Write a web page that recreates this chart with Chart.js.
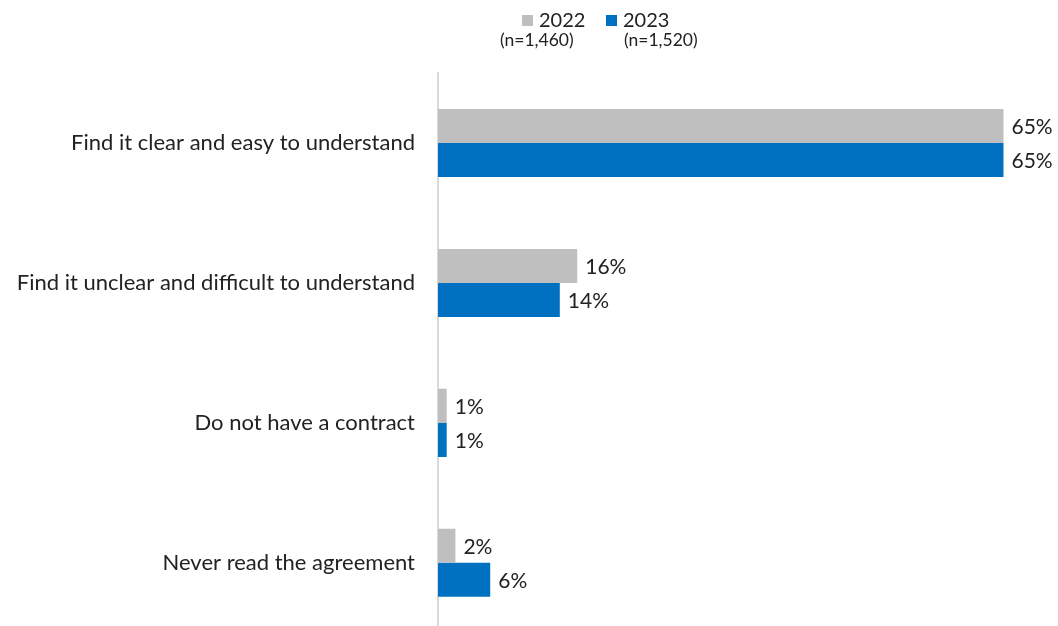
<!DOCTYPE html>
<html>
<head>
<meta charset="utf-8">
<script src="https://cdn.jsdelivr.net/npm/chart.js@4"></script>
<style>
  html, body { margin: 0; padding: 0; background: #fff; overflow: hidden; }
  #wrap { position: relative; width: 1058px; height: 626px; overflow: hidden; }
  #chart { position: absolute; left: 0; top: 0; }
  .legend { position: absolute; top: 8px; font-family: Lato, "Open Sans", sans-serif; color: #222; }
  .legend .year { font-size: 20px; line-height: 22px; white-space: nowrap; }
  .legend .sw { display: inline-block; width: 11px; height: 11px; margin-right: 6px; vertical-align: 1px; }
  .legend .n { font-size: 17.5px; line-height: 20px; white-space: nowrap; }
</style>
</head>
<body>
<div id="wrap">
  <!-- the canvas runs past the page bottom so the axis line reaches the edge -->
  <canvas id="chart" width="1058" height="661"></canvas>
  <div class="legend" style="left:500px">
    <div class="year" style="padding-left:22px"><span class="sw" style="background:#bfbfbf"></span>2022</div>
    <div class="n">(n=1,460)</div>
  </div>
  <div class="legend" style="left:606px">
    <div class="year"><span class="sw" style="background:#0070c0"></span>2023</div>
    <div class="n" style="padding-left:18px">(n=1,520)</div>
  </div>
</div>
<script>
const categories = [
  'Find it clear and easy to understand',
  'Find it unclear and difficult to understand',
  'Do not have a contract',
  'Never read the agreement'
];
const values2022 = [65, 16, 1, 2];
const values2023 = [65, 14, 1, 6];

const FONT = 'Lato, "Open Sans", sans-serif';

// write the percentage just past the end of every bar
const valueLabels = {
  id: 'valueLabels',
  afterDatasetsDraw(chart) {
    const ctx = chart.ctx;
    ctx.save();
    ctx.font = '21px ' + FONT;
    ctx.fillStyle = '#222';
    ctx.textAlign = 'left';
    ctx.textBaseline = 'middle';
    chart.data.datasets.forEach((ds, i) => {
      chart.getDatasetMeta(i).data.forEach((bar, j) => {
        ctx.fillText(ds.data[j] + '%', bar.x + 8, bar.y + 1);
      });
    });
    ctx.restore();
  }
};

new Chart(document.getElementById('chart'), {
  type: 'bar',
  data: {
    labels: categories,
    datasets: [
      { label: '2022', data: values2022, backgroundColor: '#bfbfbf' },
      { label: '2023', data: values2023, backgroundColor: '#0070c0' }
    ]
  },
  options: {
    indexAxis: 'y',
    responsive: false,
    animation: false,
    categoryPercentage: 0.486,
    barPercentage: 1,
    layout: { padding: { top: 73, right: 11, bottom: 0, left: 0 } },
    plugins: {
      legend: { display: false },
      tooltip: { enabled: false }
    },
    scales: {
      x: { display: false, min: 0, max: 70 },
      y: {
        grid: { display: false },
        border: { display: true, color: '#d9d9d9', width: 2 },
        ticks: { color: '#222', padding: 15, font: { family: FONT, size: 22 } },
        afterFit(scale) { scale.width = 438; }
      }
    }
  },
  plugins: [valueLabels]
});
</script>
</body>
</html>
